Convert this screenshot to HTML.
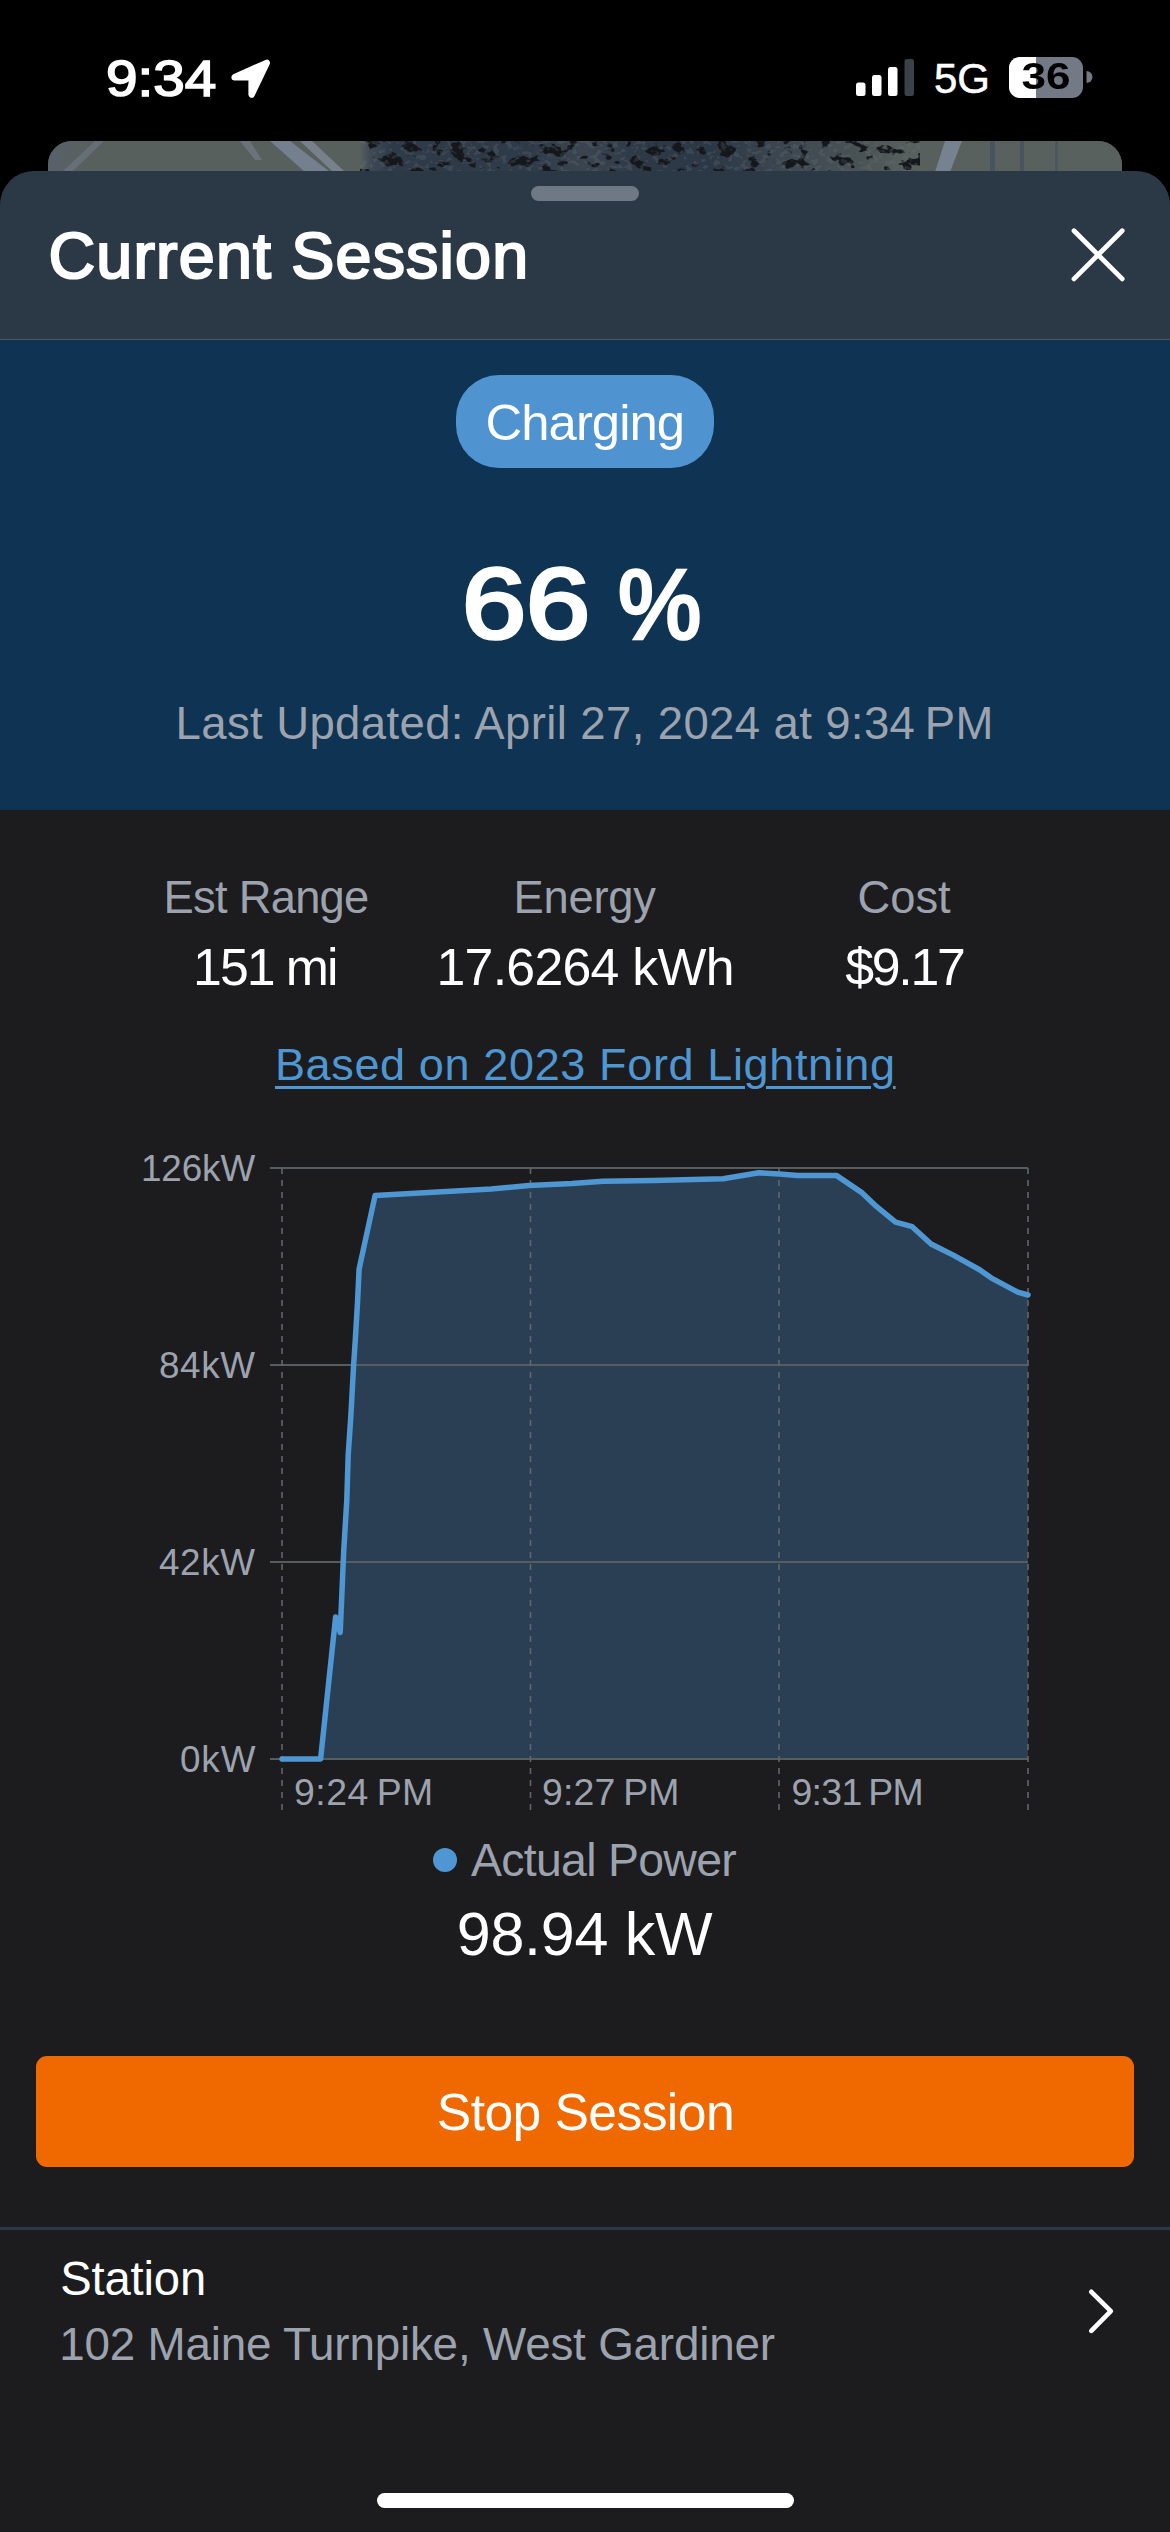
<!DOCTYPE html>
<html><head><meta charset="utf-8"><title>Current Session</title>
<style>
*{margin:0;padding:0;box-sizing:border-box}
html,body{width:1170px;height:2532px;overflow:hidden;background:#1c1c1e}
body{position:relative;font-family:"Liberation Sans",Arial,sans-serif;-webkit-font-smoothing:antialiased}
.t{position:absolute;white-space:nowrap}
#status{position:absolute;left:0;top:0;width:1170px;height:200px;background:#000}
#map{position:absolute;left:48px;top:141px;width:1074px;height:60px;border-radius:24px 24px 0 0;overflow:hidden;background:#59615e}
#sheet{position:absolute;left:0;top:171px;width:1170px;height:2400px;background:#1c1c1e;border-radius:34px 34px 0 0;overflow:hidden}
#hdr{position:absolute;left:0;top:0;width:1170px;height:168px;background:#2b3846}
#hdrline{position:absolute;left:0;top:168px;width:1170px;height:1px;background:#4e5861}
#blue{position:absolute;left:0;top:169px;width:1170px;height:470px;background:#0f3352}
#grab{position:absolute;left:531px;top:186px;width:108px;height:15px;border-radius:8px;background:#6f7885}
#pill{position:absolute;left:456px;top:375px;width:258px;height:93px;border-radius:43px;background:#4f94d0}
#btn{position:absolute;left:36px;top:2056px;width:1098px;height:111px;border-radius:11px;background:#f06900}
#div2{position:absolute;left:0;top:2227px;width:1170px;height:3px;background:#2b3946}
#home{position:absolute;left:377px;top:2493px;width:417px;height:15px;border-radius:7.5px;background:#fff}
#dot{position:absolute;left:433px;top:1848px;width:24px;height:24px;border-radius:50%;background:#4f97d3}
svg{position:absolute;left:0;top:0}
</style></head><body>
<div id="status"></div>
<div id="map"><svg width="1074" height="60" viewBox="48 141 1074 60" style="position:absolute;left:0;top:0">
  <defs><linearGradient id="mg" x1="48" x2="1122" y1="0" y2="0" gradientUnits="userSpaceOnUse">
    <stop offset="0" stop-color="#58616a"/><stop offset="0.04" stop-color="#58605e"/><stop offset="0.2" stop-color="#58605d"/>
    <stop offset="0.29" stop-color="#58605e"/><stop offset="0.3" stop-color="#3f4a55"/><stop offset="0.32" stop-color="#2e3a48"/>
    <stop offset="0.45" stop-color="#2f3b49"/><stop offset="0.5" stop-color="#3a4550"/><stop offset="0.55" stop-color="#2d3947"/>
    <stop offset="0.62" stop-color="#2c3846"/><stop offset="0.68" stop-color="#3b4650"/><stop offset="0.76" stop-color="#4a5456"/>
    <stop offset="0.8" stop-color="#57605d"/><stop offset="1" stop-color="#59615e"/></linearGradient></defs>
  <rect x="48" y="141" width="1074" height="60" fill="url(#mg)"/>
  <path d="M62,172 L95,141 L104,141 L72,172Z" fill="#6f7a86" opacity="0.6"/>
  <path d="M270,141 L290,141 L330,172 L305,172Z" fill="#7a8696" opacity="0.85"/>
  <path d="M300,141 L312,141 L345,172 L333,172Z" fill="#8390a0" opacity="0.7"/>
  <path d="M240,141 L250,141 L262,160 L255,160Z" fill="#7a8696" opacity="0.5"/>
  <filter id="nz" x="0" y="0" width="100%" height="100%" color-interpolation-filters="sRGB"><feTurbulence type="fractalNoise" baseFrequency="0.06 0.09" numOctaves="3" seed="7"/>
    <feColorMatrix type="matrix" values="0 0 0 0 0.08  0 0 0 0 0.09  0 0 0 0 0.11  0 0 0 -14 6.1"/></filter>
  <filter id="nz2" x="0" y="0" width="100%" height="100%" color-interpolation-filters="sRGB"><feTurbulence type="fractalNoise" baseFrequency="0.15 0.2" numOctaves="2" seed="3"/>
    <feColorMatrix type="matrix" values="0 0 0 0 0.42  0 0 0 0 0.46  0 0 0 0 0.48  0 0 0 10 -5.5"/></filter>
  <rect x="360" y="141" width="560" height="40" filter="url(#nz)"/>
  <rect x="360" y="141" width="560" height="40" filter="url(#nz2)" opacity="0.25"/>
  <path d="M945,141 L962,141 L950,172 L935,172Z" fill="#7b8696" opacity="0.9"/>
  <path d="M990,141 L995,141 L995,172 L990,172Z" fill="#3e4d5e" opacity="0.6"/>
  <path d="M1020,141 L1024,141 L1024,172 L1020,172Z" fill="#3e4d5e" opacity="0.6"/>
  <path d="M1055,141 L1058,141 L1058,172 L1055,172Z" fill="#3e4d5e" opacity="0.5"/>
</svg></div>
<div id="sheet">
  <div id="hdr"></div>
  <div id="hdrline"></div>
  <div id="blue"></div>
</div>
<div id="grab"></div>
<div id="pill"></div>
<div id="btn"></div>
<div id="div2"></div>
<div id="home"></div>
<div id="dot"></div>
<svg width="1170" height="2532" viewBox="0 0 1170 2532">
  <!-- status icons -->
  <path d="M234.6,77.2 L266.8,62.8 L251.6,94.6 L251.6,77.2 Z" fill="#fff" stroke="#fff" stroke-width="6.4" stroke-linejoin="round"/>
  <rect x="856" y="82.5" width="9.5" height="13.5" rx="2.5" fill="#fff"/>
  <rect x="872" y="75" width="9.5" height="21" rx="2.5" fill="#fff"/>
  <rect x="888" y="67" width="9.5" height="29" rx="2.5" fill="#fff"/>
  <rect x="904.5" y="59" width="9.5" height="37" rx="2.5" fill="#3b4149"/>
  <rect x="1009" y="57" width="74" height="41" rx="11" fill="#737a85"/>
  <path d="M1020,57 L1036,57 L1036,98 L1020,98 A11,11 0 0 1 1009,87 L1009,68 A11,11 0 0 1 1020,57 Z" fill="#fff"/>
  <path d="M1086.5,71 A6,6 0 0 1 1086.5,83 Z" fill="#737a85"/>
  <!-- close X -->
  <path d="M1074,230.8 L1122.2,278.9 M1122.2,230.8 L1074,278.9" stroke="#fff" stroke-width="4.8" stroke-linecap="round"/>
  <!-- chart -->
  <path d="M282,1759 L320.6,1759 L335.6,1617 L340.2,1632.5 L343.7,1551.3 L346.8,1500 L348.2,1455 L350.8,1416.7 L353.6,1365.4 L355.3,1339.7 L357.6,1301 L359.1,1269 L375.1,1195.5 L491,1189 L529,1185.5 L572,1183.6 L603,1181.2 L653.8,1180.5 L723,1178.7 L759,1172.8 L779.5,1174 L797.8,1175.6 L836.7,1175.6 L862.2,1192.9 L876.7,1206.7 L895.6,1222.2 L912.2,1226.7 L931.1,1244 L953.3,1255.1 L980,1270 L991.1,1277.8 L1017.8,1292.2 L1028,1295 L1028,1759 L282,1759 Z" fill="#2b3f54"/>
  <g stroke="#555d60" stroke-width="2">
    <line x1="270" y1="1168" x2="1028" y2="1168"/>
    <line x1="270" y1="1365" x2="1028" y2="1365"/>
    <line x1="270" y1="1562" x2="1028" y2="1562"/>
    <line x1="270" y1="1759" x2="1028" y2="1759"/>
  </g>
  <g stroke="#5f676a" stroke-width="1.6" stroke-dasharray="6 6">
    <line x1="282" y1="1168" x2="282" y2="1810"/>
    <line x1="530.5" y1="1168" x2="530.5" y2="1810"/>
    <line x1="779" y1="1168" x2="779" y2="1810"/>
    <line x1="1028" y1="1168" x2="1028" y2="1810"/>
  </g>
  <path d="M282,1759 L320.6,1759 L335.6,1617 L340.2,1632.5 L343.7,1551.3 L346.8,1500 L348.2,1455 L350.8,1416.7 L353.6,1365.4 L355.3,1339.7 L357.6,1301 L359.1,1269 L375.1,1195.5 L491,1189 L529,1185.5 L572,1183.6 L603,1181.2 L653.8,1180.5 L723,1178.7 L759,1172.8 L779.5,1174 L797.8,1175.6 L836.7,1175.6 L862.2,1192.9 L876.7,1206.7 L895.6,1222.2 L912.2,1226.7 L931.1,1244 L953.3,1255.1 L980,1270 L991.1,1277.8 L1017.8,1292.2 L1028,1295" fill="none" stroke="#4f97d3" stroke-width="5.5" stroke-linejoin="round" stroke-linecap="round"/>
  <!-- chevron -->
  <path d="M1091.3,2291.8 L1110.8,2311.2 L1091.3,2330.8" fill="none" stroke="#fff" stroke-width="4.7" stroke-linecap="round" stroke-linejoin="round"/>
</svg>
<div class="t" id="time" style="top:48.78px;font-size:49.95px;line-height:60px;font-weight:400;color:#fff;-webkit-text-stroke:1.6px #fff;left:105.90px;transform:scaleX(1.1357);transform-origin:0 0;">9:34</div>
<div class="t" id="fiveg" style="top:53.84px;font-size:42.00px;line-height:50px;font-weight:400;color:#fff;-webkit-text-stroke:0.5px #fff;left:934.00px;">5G</div>
<div class="t" id="batt" style="top:54.75px;font-size:36.50px;line-height:44px;font-weight:700;color:#000;left:446.00px;width:1200px;text-align:center;transform:scaleX(1.2080);transform-origin:600px 0;">36</div>
<div class="t" id="title" style="top:216.90px;font-size:64.60px;line-height:78px;font-weight:400;color:#fff;letter-spacing:1.180px;-webkit-text-stroke:2.2px #fff;left:48.50px;">Current Session</div>
<div class="t" id="charging" style="top:391.99px;font-size:50.80px;line-height:61px;font-weight:400;color:#fff;letter-spacing:-0.956px;left:-14.70px;width:1200px;text-align:center;text-indent:-0.956px;">Charging</div>
<div class="t" id="pct66" style="top:543.80px;font-size:99.80px;line-height:120px;font-weight:400;color:#fff;-webkit-text-stroke:3.6px #fff;left:462.30px;transform:scaleX(1.1549);transform-origin:0 0;">66</div>
<div class="t" id="pctsign" style="top:543.80px;font-size:98.95px;line-height:119px;font-weight:400;color:#fff;-webkit-text-stroke:3.6px #fff;left:618.30px;transform:scaleX(0.9473);transform-origin:0 0;">%</div>
<div class="t" id="updated" style="top:695.63px;font-size:45.50px;line-height:55px;font-weight:400;color:#9ca3af;letter-spacing:0.379px;left:-15.50px;width:1200px;text-align:center;text-indent:0.379px;">Last Updated: April 27, 2024 at 9:34&#8239;PM</div>
<div class="t" id="l1" style="top:871.20px;font-size:45.30px;line-height:54px;font-weight:400;color:#9ca3af;letter-spacing:-0.718px;left:-333.60px;width:1200px;text-align:center;text-indent:-0.718px;">Est Range</div>
<div class="t" id="v1" style="top:935.84px;font-size:51.80px;line-height:62px;font-weight:400;color:#fff;letter-spacing:-2.016px;left:-334.20px;width:1200px;text-align:center;text-indent:-2.016px;">151 mi</div>
<div class="t" id="l2" style="top:871.20px;font-size:45.30px;line-height:54px;font-weight:400;color:#9ca3af;letter-spacing:-0.180px;left:-15.30px;width:1200px;text-align:center;text-indent:-0.180px;">Energy</div>
<div class="t" id="v2" style="top:935.84px;font-size:51.80px;line-height:62px;font-weight:400;color:#fff;letter-spacing:-0.720px;left:-14.50px;width:1200px;text-align:center;text-indent:-0.720px;">17.6264 kWh</div>
<div class="t" id="l3" style="top:871.20px;font-size:45.30px;line-height:54px;font-weight:400;color:#9ca3af;left:304.10px;width:1200px;text-align:center;">Cost</div>
<div class="t" id="v3" style="top:935.84px;font-size:51.80px;line-height:62px;font-weight:400;color:#fff;letter-spacing:-2.250px;left:305.50px;width:1200px;text-align:center;text-indent:-2.250px;">$9.17</div>
<div class="t" id="link" style="top:1038.10px;font-size:45.00px;line-height:54px;font-weight:400;color:#4f97d3;letter-spacing:0.633px;left:-15.00px;width:1200px;text-align:center;text-indent:0.633px;text-decoration:underline;text-decoration-thickness:3px;text-underline-offset:6px;">Based on 2023 Ford Lightning</div>
<div class="t" id="y126" style="top:1147.24px;font-size:36.80px;line-height:44px;font-weight:400;color:#9ca3af;letter-spacing:-0.090px;left:141.00px;">126kW</div>
<div class="t" id="y84" style="top:1344.24px;font-size:36.80px;line-height:44px;font-weight:400;color:#9ca3af;letter-spacing:0.600px;left:159.00px;">84kW</div>
<div class="t" id="y42" style="top:1541.24px;font-size:36.80px;line-height:44px;font-weight:400;color:#9ca3af;letter-spacing:0.600px;left:159.00px;">42kW</div>
<div class="t" id="y0" style="top:1738.24px;font-size:36.80px;line-height:44px;font-weight:400;color:#9ca3af;letter-spacing:0.900px;left:180.00px;">0kW</div>
<div class="t" id="x1" style="top:1769.93px;font-size:37.40px;line-height:45px;font-weight:400;color:#9ca3af;letter-spacing:0.480px;left:294.00px;">9:24&#8239;PM</div>
<div class="t" id="x2" style="top:1769.93px;font-size:37.40px;line-height:45px;font-weight:400;color:#9ca3af;letter-spacing:0.180px;left:542.00px;">9:27&#8239;PM</div>
<div class="t" id="x3" style="top:1769.93px;font-size:37.40px;line-height:45px;font-weight:400;color:#9ca3af;letter-spacing:-0.690px;left:791.50px;">9:31&#8239;PM</div>
<div class="t" id="legend" style="top:1831.91px;font-size:46.40px;line-height:56px;font-weight:400;color:#9ca3af;letter-spacing:-0.691px;left:471.00px;">Actual Power</div>
<div class="t" id="power" style="top:1898.35px;font-size:61.00px;line-height:73px;font-weight:400;color:#fff;letter-spacing:-0.257px;left:-15.30px;width:1200px;text-align:center;text-indent:-0.257px;">98.94 kW</div>
<div class="t" id="stop" style="top:2080.68px;font-size:51.70px;line-height:62px;font-weight:400;color:#fff;letter-spacing:-0.610px;left:-14.30px;width:1200px;text-align:center;text-indent:-0.610px;">Stop Session</div>
<div class="t" id="station" style="top:2249.64px;font-size:47.20px;line-height:57px;font-weight:400;color:#fff;letter-spacing:-0.150px;left:60.20px;">Station</div>
<div class="t" id="addr" style="top:2316.62px;font-size:45.80px;line-height:55px;font-weight:400;color:#9ca3af;letter-spacing:-0.197px;left:59.20px;">102 Maine Turnpike, West Gardiner</div>
</body></html>
